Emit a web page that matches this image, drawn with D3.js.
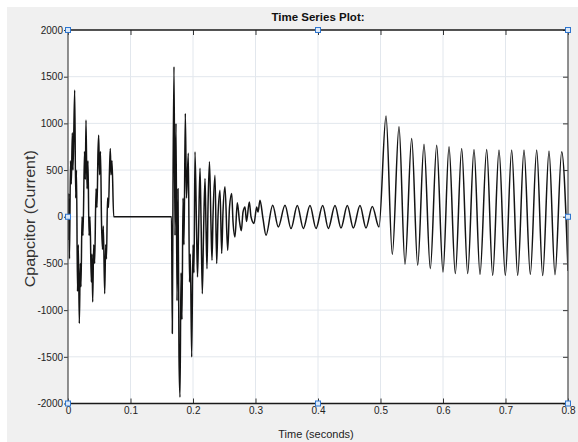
<!DOCTYPE html>
<html><head><meta charset="utf-8">
<script src="https://cdn.jsdelivr.net/npm/d3@7"></script>
<style>body{margin:0;background:#fff} svg{display:block}</style>
</head><body>
<svg id="c" width="578" height="442"></svg>
<script>
// ---- data ----
const xTicks = [0, 0.1, 0.2, 0.3, 0.4, 0.5, 0.6, 0.7, 0.8];
const xTickLabels = ["0", "0.1", "0.2", "0.3", "0.4", "0.5", "0.6", "0.7", "0.8"];
const yTicks = [-2000, -1500, -1000, -500, 0, 500, 1000, 1500, 2000];
const yTickLabels = ["-2000", "-1500", "-1000", "-500", "0", "500", "1000", "1500", "2000"];

// [time (s), current]
const burst1 = [
  [0,-250],[0.0011,250],[0.0024,-450],[0.004,600],[0.0053,350],[0.0069,900],[0.008,500],
  [0.0107,1357],[0.0123,200],[0.0136,500],[0.0152,-800],[0.0165,-300],[0.0181,-1142],
  [0.0197,-500],[0.0208,-750],[0.0224,0],[0.024,-200],[0.0264,700],[0.0277,400],
  [0.0288,1035],[0.0304,300],[0.032,600],[0.0336,-200],[0.0352,0],[0.0373,-700],
  [0.0384,-400],[0.0395,-913],[0.0411,-300],[0.0427,-500],[0.0448,300],[0.0464,100],
  [0.048,700],[0.0491,874],[0.0504,450],[0.052,700],[0.0536,-50],[0.0552,-350],
  [0.0565,-100],[0.0587,-824],[0.0603,-300],[0.0616,-450],[0.0632,200],[0.0648,100],
  [0.0664,500],[0.0677,731],[0.0688,450],[0.0704,600],[0.0731,0]
];
const deadTime = [[0.1656,0]];
const burst2 = [
  [0.1669,-1250],[0.168,300],[0.1696,1607],[0.1712,-200],[0.1728,1000],[0.1744,-900],
  [0.176,300],[0.1776,-1500],[0.1792,-1932],[0.1808,-600],[0.1824,-1100],[0.184,200],
  [0.1856,-300],[0.1877,1107],[0.1896,200],[0.1925,680],[0.1944,-700],[0.1957,-400],
  [0.1979,-1503],[0.2,-300],[0.2016,-600],[0.2032,695],[0.2056,-100],[0.2072,-645],
  [0.2088,-200],[0.2112,520],[0.2128,0],[0.2149,-824],[0.2168,-200],[0.2192,410],
  [0.2208,-100],[0.2224,-557],[0.224,100],[0.2264,588],[0.2288,-100],[0.2304,-466],
  [0.232,0],[0.2352,445],[0.2379,-502],[0.24,0],[0.2432,284],[0.2459,-393],[0.248,50],
  [0.2512,320],[0.2555,-360],[0.2584,100],[0.2619,249],[0.264,-50],[0.2672,-216],
  [0.2709,150],[0.2744,-50],[0.2773,-150],[0.28,50],[0.2832,105],[0.2856,-50],
  [0.2901,159],[0.2928,0],[0.2976,-72],[0.3019,105],[0.304,50],[0.3072,177],
  [0.312,-20],[0.3168,-198]
];
const ripple = [
  [0.3275,123],[0.3365,-109],[0.3472,123],[0.3568,-127],[0.3669,120],[0.3765,-125],
  [0.3872,120],[0.3968,-125],[0.4075,120],[0.4165,-125],[0.4272,120],[0.4368,-120],
  [0.4469,120],[0.4565,-120],[0.4672,120],[0.4768,-120],[0.4869,110],[0.4976,-110]
];
const steady = [
  [0.5088,1078],[0.5189,-402],[0.5296,963],[0.5392,-509],[0.5499,838],[0.5595,-520],
  [0.5696,777],[0.5797,-556],[0.5899,767],[0.6,-592],[0.6096,749],[0.6197,-609],
  [0.6299,731],[0.6395,-609],[0.6496,720],[0.6592,-616],[0.6699,720],[0.6795,-627],
  [0.6896,714],[0.6997,-627],[0.7099,714],[0.7195,-627],[0.7296,714],[0.7397,-616],
  [0.7499,714],[0.7595,-630],[0.7696,705],[0.7792,-620],[0.7899,695],[0.8,-580]
];

const title = "Time Series Plot:";
const xLabel = "Time (seconds)";
const yLabel = "Cpapcitor (Current)";

// ---- drawing ----
const svg = d3.select("#c");
const L = 68, R = 568, T = 30, B = 403.5;
const x = d3.scaleLinear().domain([0, 0.8]).range([L, R]);
const y = d3.scaleLinear().domain([-2000, 2000]).range([B, T]);

svg.append("rect").attr("x", 7).attr("y", 7).attr("width", 571).attr("height", 435).attr("fill", "#f0f0f0");
svg.append("rect").attr("x", L).attr("y", T).attr("width", R - L).attr("height", B - T).attr("fill", "#ffffff");

// grid
const grid = svg.append("g").attr("stroke", "#e2e7ed").attr("stroke-width", 1);
xTicks.slice(1, -1).forEach(t => grid.append("line")
  .attr("x1", x(t)).attr("x2", x(t)).attr("y1", T).attr("y2", B));
yTicks.slice(1, -1).forEach(t => grid.append("line")
  .attr("y1", y(t)).attr("y2", y(t)).attr("x1", L).attr("x2", R));

// signal
const data = [].concat(burst1, deadTime, burst2, ripple, steady);
svg.append("clipPath").attr("id", "clip").append("rect")
  .attr("x", L).attr("y", T).attr("width", R - L).attr("height", B - T);
const line = d3.line().x(d => x(d[0])).y(d => y(d[1])).curve(d3.curveMonotoneX);
svg.append("path").datum(data).attr("clip-path", "url(#clip)")
  .attr("d", line).attr("fill", "none").attr("stroke", "#141414")
  .attr("stroke-width", 1.5).attr("stroke-linejoin", "round");

// axes
const font = "'Liberation Sans', Arial, sans-serif";
function style(g, showText) {
  g.select(".domain").remove();
  g.selectAll(".tick line").attr("stroke", "#333").attr("stroke-width", 1);
  g.selectAll(".tick text").attr("fill", "#222").style("font-family", font)
   .style("font-size", "10px");
  if (!showText) g.selectAll(".tick text").remove();
}
svg.append("g").attr("transform", `translate(0,${B})`)
  .call(d3.axisBottom(x).tickValues(xTicks).tickFormat((d, i) => xTickLabels[i]).tickSize(-5).tickPadding(3))
  .call(g => style(g, true));
svg.append("g").attr("transform", `translate(0,${T})`)
  .call(d3.axisTop(x).tickValues(xTicks).tickSize(-5))
  .call(g => style(g, false));
svg.append("g").attr("transform", `translate(${L},0)`)
  .call(d3.axisLeft(y).tickValues(yTicks).tickFormat((d, i) => yTickLabels[i]).tickSize(4).tickPadding(1))
  .call(g => style(g, true));
svg.append("g").attr("transform", `translate(${R},0)`)
  .call(d3.axisRight(y).tickValues(yTicks).tickSize(-5))
  .call(g => style(g, false));

// frame
svg.append("line").attr("x1", L).attr("x2", R).attr("y1", T).attr("y2", T).attr("stroke", "#1a1a1a").attr("stroke-width", 1.4);
svg.append("line").attr("x1", L).attr("x2", R).attr("y1", B).attr("y2", B).attr("stroke", "#1a1a1a").attr("stroke-width", 1.4);
svg.append("line").attr("x1", L).attr("x2", L).attr("y1", T).attr("y2", B).attr("stroke", "#555").attr("stroke-width", 1.3);
svg.append("line").attr("x1", R).attr("x2", R).attr("y1", T).attr("y2", B).attr("stroke", "#555").attr("stroke-width", 1.3);

// selection handles
const xd = x.domain(), yd = y.domain();
const xm = (xd[0] + xd[1]) / 2, ym = (yd[0] + yd[1]) / 2;
const handles = [[xd[0], yd[1]], [xm, yd[1]], [xd[1], yd[1]], [xd[0], ym], [xd[1], ym],
                 [xd[0], yd[0]], [xm, yd[0]], [xd[1], yd[0]]];
svg.append("g").selectAll("rect").data(handles).join("rect")
  .attr("x", d => x(d[0]) - 2.5).attr("y", d => y(d[1]) - 2.5)
  .attr("width", 5).attr("height", 5)
  .attr("fill", "#dce9f8").attr("stroke", "#2f76cf").attr("stroke-width", 1);

// texts
svg.append("text").attr("x", (L + R) / 2).attr("y", 21).attr("text-anchor", "middle")
  .style("font-family", font).style("font-size", "11.5px").style("font-weight", "bold")
  .attr("fill", "#111").text(title);
svg.append("text").attr("x", (L + R) / 2 - 2).attr("y", 438).attr("text-anchor", "middle")
  .style("font-family", font).style("font-size", "11px").attr("fill", "#222").text(xLabel);
svg.append("text").attr("transform", `translate(35,${(T + B) / 2 + 2}) rotate(-90)`)
  .attr("text-anchor", "middle").attr("textLength", 137).attr("lengthAdjust", "spacingAndGlyphs")
  .style("font-family", font).style("font-size", "14px").attr("fill", "#333").text(yLabel);
</script>
</body></html>
